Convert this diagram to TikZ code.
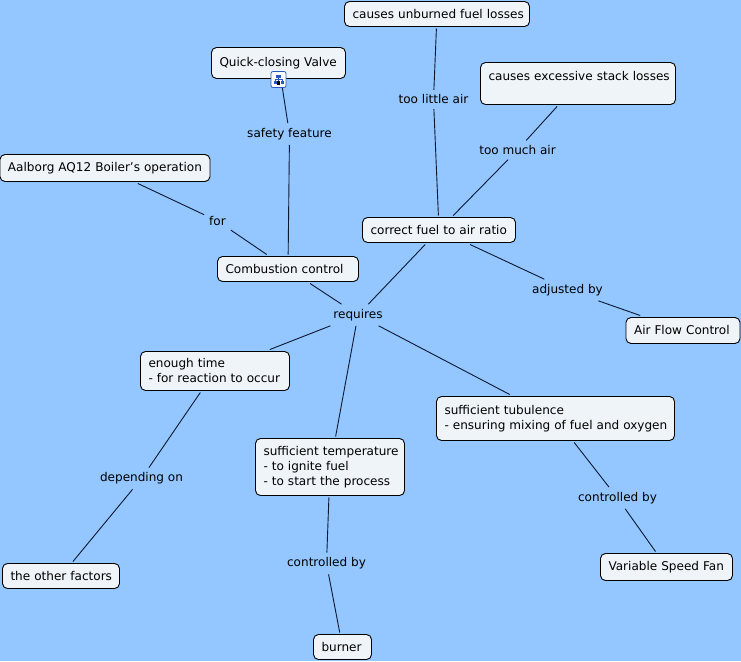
\documentclass[tikz,border=0pt]{standalone}
\usepackage{xcolor}
\usepackage{fontspec}
\setmainfont{DejaVu Sans}
\usepackage{tikz}
\usetikzlibrary{positioning,calc}
\definecolor{mybg}{RGB}{148,198,255}
\definecolor{myfill}{RGB}{238,244,248}
\definecolor{myicon}{RGB}{40,90,190}
\definecolor{myline}{RGB}{10,25,50}
\newcommand{\tline}[1]{\mbox{\raisebox{-1pt}{#1}}}
\hfuzz=40pt

\begin{document}
\begin{tikzpicture}[
  x=1pt, y=-1pt,
  concept/.style={rectangle, rounded corners=5pt, draw=black, fill=myfill,
                  line width=0.9pt, inner xsep=0pt, inner ysep=0pt, outer sep=2pt,
                  align=left, font=\fontsize{12.05}{15}\selectfont},
  phrase/.style={inner sep=0pt, outer sep=5pt, text=black,
                 font=\fontsize{12.05}{15}\selectfont},
  lnk/.style={draw=myline, line width=0.9pt}
]
  \fill[mybg] (0,0) rectangle (741,661);
  \useasboundingbox (0,0) rectangle (741,661);

  \begin{scope}[xshift=0.5pt, yshift=-0.5pt]
  % concepts
  \node[concept, minimum width=134pt, minimum height=31pt, text width=118pt] (valve) at (278,62.5) {\tline{Quick-closing Valve}};
  \node[concept, minimum width=185pt, minimum height=25pt, text width=169pt] (unburned) at (436.5,13.5) {\tline{causes unburned fuel losses}};
  \node[concept, minimum width=195pt, minimum height=42pt, text width=179pt] (stack) at (577.5,83) {\mbox{causes excessive stack losses}\\\ };
  \node[concept, minimum width=210pt, minimum height=27pt, text width=194pt] (boiler) at (104.5,167.5) {\tline{Aalborg AQ12 Boiler's operation}};
  \node[concept, minimum width=153pt, minimum height=25pt, text width=137pt] (ratio) at (438.5,229.5) {\tline{correct fuel to air ratio}};
  \node[concept, minimum width=141pt, minimum height=25pt, text width=125pt] (combustion) at (287.5,268.5) {\tline{Combustion control}};
  \node[concept, minimum width=114pt, minimum height=26pt, text width=98pt] (airflow) at (682.5,330) {\tline{Air Flow Control}};
  \node[concept, minimum width=149pt, minimum height=39pt, text width=133pt] (time) at (214.5,370.5) {\tline{enough time}\\\tline{- for reaction to occur}};
  \node[concept, minimum width=238pt, minimum height=44pt, text width=222pt] (turbulence) at (555,418) {\tline{sufficient tubulence}\\\tline{- ensuring mixing of fuel and oxygen}};
  \node[concept, minimum width=149pt, minimum height=57pt, text width=133pt] (temperature) at (329.5,466.5) {\tline{sufficient temperature}\\\tline{- to ignite fuel}\\\tline{- to start the process}};
  \node[concept, minimum width=117pt, minimum height=25pt, text width=101pt] (factors) at (60.5,575.5) {\tline{the other factors}};
  \node[concept, minimum width=132pt, minimum height=27pt, text width=116pt] (fan) at (666,566.5) {\tline{Variable Speed Fan}};
  \node[concept, minimum width=58pt, minimum height=25pt, text width=42pt] (burner) at (342,646.5) {\tline{burner}};

  % linking phrases
  \node[phrase] (littleair) at (433,99) {too little air};
  \node[phrase] (muchair) at (517,149.5) {too much air};
  \node[phrase] (safety) at (289,133.5) {safety feature};
  \node[phrase] (for) at (217,220.5) {for};
  \node[phrase] (adjusted) at (567,289.5) {adjusted by};
  \node[phrase] (requires) at (357.5,314.5) {requires};
  \node[phrase] (depending) at (141,478) {depending on};
  \node[phrase] (ctrlburner) at (326,563) {controlled by};
  \node[phrase] (ctrlfan) at (617,497.5) {controlled by};

  % connectors
  \draw[lnk](unburned)--(littleair);
  \draw[lnk](littleair)--(ratio);
  \draw[lnk](stack)--(muchair);
  \draw[lnk](muchair)--(ratio);
  \draw[lnk](valve)--(safety);
  \draw[lnk](safety)--(combustion);
  \draw[lnk](boiler)--(for);
  \draw[lnk](for)--(combustion);
  \draw[lnk](ratio)--(adjusted);
  \draw[lnk](adjusted)--(airflow);
  \draw[lnk](combustion)--(requires);
  \draw[lnk](ratio)--(requires);
  \draw[lnk](requires)--(time);
  \draw[lnk](requires)--(temperature);
  \draw[lnk](requires)--(turbulence);
  \draw[lnk](time)--(depending);
  \draw[lnk](depending)--(factors);
  \draw[lnk](temperature)--(ctrlburner);
  \draw[lnk](ctrlburner)--(burner);
  \draw[lnk](turbulence)--(ctrlfan);
  \draw[lnk](ctrlfan)--(fan);

  % submap icon
  \node[draw=myicon, fill=white, rounded corners=2pt, line width=0.8pt,
        minimum width=15pt, minimum height=16pt, inner sep=0pt] (icon) at (278,79) {};
  \fill[myicon] ($(icon)+(-2.5,-5)$) rectangle ($(icon)+(2.5,-2)$);
  \fill[myicon] ($(icon)+(-5,1.5)$) rectangle ($(icon)+(-2,4.5)$);
  \fill[myicon] ($(icon)+(2,1.5)$) rectangle ($(icon)+(5,4.5)$);
  \fill[black] ($(icon)+(-1.2,1.5)$) rectangle ($(icon)+(1.2,5.5)$);
  \draw[myicon, line width=0.5pt] ($(icon)+(0,-2)$) -- ($(icon)+(0,1.5)$);
  \draw[myicon, line width=0.5pt] ($(icon)+(-3.5,1.5)$) -- ($(icon)+(-3.5,-0.5)$) -- ($(icon)+(3.5,-0.5)$) -- ($(icon)+(3.5,1.5)$);
  \end{scope}
\end{tikzpicture}
\end{document}
